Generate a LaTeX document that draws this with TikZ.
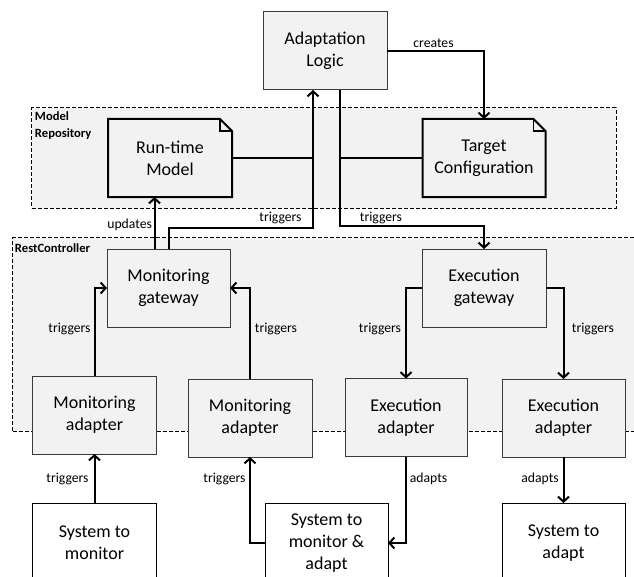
\documentclass[tikz,border=0pt]{standalone}
\usepackage{fontspec}
\setmainfont{Carlito}
\usetikzlibrary{arrows.meta}

\definecolor{boxfill}{HTML}{F2F2F2}
\definecolor{boxline}{HTML}{3A3A3A}

\newcommand\boxfont{\fontsize{18bp}{22bp}\selectfont}
\newcommand\lblfont{\fontsize{13.7bp}{16bp}\selectfont}
\newcommand\grpfont{\fontsize{12.6bp}{16.5bp}\selectfont\bfseries}

\begin{document}
\begin{tikzpicture}[x=1bp,y=-1bp,
  every node/.style={inner sep=0pt, outer sep=0pt},
  group/.style={draw=black, line width=1bp, dash pattern=on 4bp off 2bp, fill=boxfill},
  grplabel/.style={font=\grpfont, align=left, inner sep=0pt},
  block/.style={draw=boxline, line width=1bp, fill=boxfill, minimum width=123bp,
    minimum height=78bp, align=center, font=\boxfont},
  sysbox/.style={draw=black, line width=1bp, fill=white, minimum width=123bp,
    minimum height=80bp, align=center, font=\boxfont},
  notebody/.style={fill=boxfill, minimum width=123bp, minimum height=78bp,
    align=center, font=\boxfont},
  noteline/.style={draw=black, line width=2bp, line join=miter},
  link/.style={draw=black, line width=2bp},
  arr/.style={link, -{Straight Barb[length=5bp,width=11bp]}},
  lbl/.style={font=\lblfont, inner sep=0pt}
]
\clip (0,0) rectangle (634,577);

% containers
\node[group, minimum width=584bp, minimum height=100bp] (repo) at (324,158) {};
\node[grplabel, anchor=north west] at ([shift={(3bp,-4bp)}]repo.north west) {Model\\Repository};
\node[group, minimum width=637bp, minimum height=193bp] (rest) at (331.5,334.5) {};
\node[grplabel, anchor=north west] at ([shift={(2bp,-6bp)}]rest.north west) {RestController};

% adaptation logic and models
\node[block, minimum width=124bp] (al) at (325,51) {Adaptation\\Logic};
\node[notebody, minimum width=124bp] (rtm) at (170,158) {Run-time\\Model};
\node[notebody, minimum width=123bp] (tc) at (484,158) {Target\\Configuration};
\foreach \n in {rtm,tc}{
  \draw[noteline] (\n.north west) -- ([xshift=-12bp]\n.north east)
    -- ([yshift=-12bp]\n.north east) -- (\n.south east) -- (\n.south west) -- cycle;
  \draw[draw=black, line width=1.6bp] ([xshift=-12bp]\n.north east)
    -- ([xshift=-12bp,yshift=-12bp]\n.north east) -- ([yshift=-12bp]\n.north east);
}

% gateways and adapters
\node[block] (mg) at (168.5,288) {Monitoring\\gateway};
\node[block, minimum width=124bp] (eg) at (484,288) {Execution\\gateway};
\node[block] (ma1) at (94.5,415) {Monitoring\\adapter};
\node[block, minimum width=124bp] (ma2) at (250,418) {Monitoring\\adapter};
\node[block, minimum width=122bp] (ea1) at (406,417.5) {Execution\\adapter};
\node[block] (ea2) at (563.5,418) {Execution\\adapter};

% managed systems
\node[sysbox] (sm) at (94.5,543) {System to\\monitor};
\node[sysbox] (sma) at (326.5,543) {System to\\monitor \&\\adapt};
\node[sysbox] (sa) at (563.5,543) {System to\\adapt};

% routing points
\coordinate (upx) at (313,228);
\coordinate (dnx) at (340,226);

% connectors
\draw[arr] (ma1.north) |- (mg.west);
\draw[arr] (ma2.north) |- (mg.east);
\draw[arr] (eg.west) -| (ea1.north);
\draw[arr] (eg.east) -| (ea2.north);
\draw[arr] (sm.north) -- (ma1.south);
\draw[arr] (sma.west) -| (ma2.south);
\draw[arr] (ea1.south) |- (sma.east);
\draw[arr] (ea2.south) -- (sa.north);
\draw[arr] ([xshift=-14bp]mg.north) -- ([xshift=-14bp]mg.north |- rtm.south);
\draw[arr] ([xshift=0.5bp]mg.north) |- (upx) -- (upx |- al.south);
\draw[arr] (dnx |- al.south) -- (dnx) -| (eg.north);
\draw[arr] (al.east) -| (tc.north);
\draw[link] (rtm.east) -- (rtm.east -| upx);
\draw[link] (tc.west) -- (tc.west -| dnx);

% connector labels
\node[lbl, anchor=east] at (152,225) {updates};
\node[lbl] at (280.5,218) {triggers};
\node[lbl] at (381,218) {triggers};
\node[lbl] at (433.5,43) {creates};
\node[lbl] at (69.5,329) {triggers};
\node[lbl] at (276,329) {triggers};
\node[lbl] at (380,329) {triggers};
\node[lbl] at (593,329) {triggers};
\node[lbl] at (67.5,479) {triggers};
\node[lbl] at (224.5,479) {triggers};
\node[lbl] at (428.5,479) {adapts};
\node[lbl] at (540,479) {adapts};
\end{tikzpicture}
\end{document}
